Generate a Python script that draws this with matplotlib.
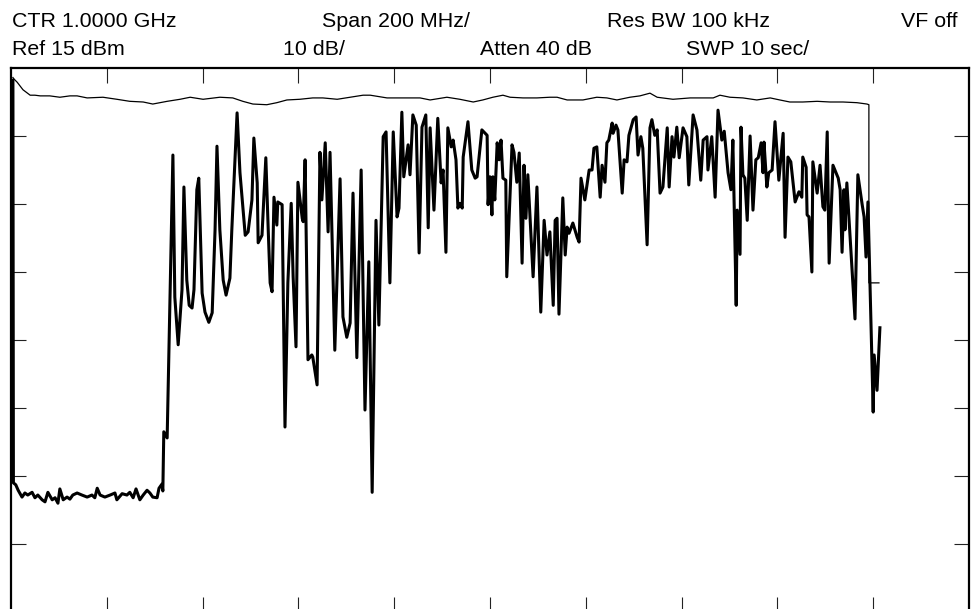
import matplotlib
matplotlib.use('Agg')
import matplotlib.pyplot as plt

plt.rcParams['font.family'] = ['Liberation Sans', 'DejaVu Sans']

# analyzer settings (CTR 1 GHz, 200 MHz/div, ref 15 dBm, 10 dB/div)
ref_level = 15
db_per_div = 10
n_vdiv = 8
span_mhz = 2000

header_row1 = ['CTR 1.0000 GHz', 'Span 200 MHz/', 'Res BW 100 kHz', 'VF off']
header_row2 = ['Ref 15 dBm', '10 dB/', 'Atten 40 dB', 'SWP 10 sec/']

trace_mhz = [4, 5, 10, 15, 23, 29, 35, 44, 50, 56, 65, 71, 77, 86, 92, 98, 102, 109, 117, 123,
             129, 138, 148, 159, 169, 175, 180, 186, 196, 207, 217, 221, 232, 242, 248, 255, 261, 269, 276, 284,
             290, 296, 305, 309, 315, 317, 319, 326, 338, 342, 349, 357, 361, 367, 372, 378, 382, 388, 392, 399,
             405, 413, 420, 426, 430, 436, 443, 449, 457, 461, 472, 478, 489, 495, 503, 507, 514, 516, 524, 532,
             537, 541, 545, 549, 555, 557, 566, 572, 578, 585, 589, 595, 599, 608, 610, 614, 620, 628, 630, 639,
             645, 649, 656, 662, 666, 676, 687, 693, 701, 708, 714, 722, 731, 739, 747, 754, 762, 768, 777, 783,
             791, 798, 806, 810, 816, 820, 829, 833, 839, 846, 852, 858, 866, 871, 875, 883, 891, 898, 902, 908,
             912, 919, 923, 929, 933, 937, 942, 944, 954, 962, 969, 973, 983, 994, 996, 1000, 1004, 1006, 1010, 1015,
             1019, 1023, 1027, 1033, 1035, 1046, 1050, 1056, 1061, 1067, 1071, 1075, 1079, 1090, 1098, 1106, 1113, 1119, 1125, 1132,
             1136, 1140, 1144, 1152, 1157, 1161, 1165, 1173, 1182, 1186, 1190, 1198, 1207, 1213, 1217, 1223, 1230, 1234, 1240, 1244,
             1248, 1255, 1257, 1263, 1267, 1276, 1280, 1286, 1290, 1299, 1305, 1309, 1315, 1319, 1328, 1334, 1338, 1344, 1349, 1355,
             1361, 1370, 1374, 1380, 1384, 1390, 1395, 1403, 1411, 1415, 1424, 1432, 1440, 1445, 1453, 1455, 1463, 1470, 1476, 1484,
             1489, 1497, 1503, 1507, 1514, 1516, 1522, 1524, 1528, 1532, 1537, 1543, 1549, 1555, 1560, 1566, 1570, 1572, 1578, 1582,
             1589, 1595, 1603, 1612, 1616, 1622, 1628, 1637, 1645, 1651, 1653, 1660, 1662, 1666, 1672, 1674, 1683, 1689, 1695, 1699,
             1704, 1708, 1716, 1727, 1731, 1735, 1739, 1741, 1745, 1756, 1762, 1768, 1777, 1781, 1785, 1789, 1800, 1802, 1808, 1814]
trace_dbm = [13.2, -46.0, -46.3, -47.1, -48.1, -47.5, -47.8, -47.4, -48.2, -47.8, -48.5, -48.8, -47.4, -48.5, -48.2, -49.0, -46.9, -48.5, -48.1, -48.4,
             -47.8, -47.5, -47.8, -48.1, -47.8, -48.2, -46.8, -47.8, -48.1, -47.8, -47.5, -48.5, -47.6, -47.8, -47.4, -48.2, -46.9, -48.5, -47.8, -47.1,
             -47.5, -48.1, -48.2, -46.8, -46.2, -47.2, -38.5, -39.4, 2.2, -18.7, -25.7, -17.6, -2.5, -16.2, -19.9, -20.3, -17.6, -2.9, -1.2, -18.1,
             -20.9, -22.4, -21.0, -8.8, 3.5, -8.8, -16.2, -18.4, -15.9, -8.8, 8.4, -0.4, -9.6, -9.1, -4.4, 4.7, -1.9, -10.7, -9.6, 1.8,
             -8.8, -16.6, -17.9, -4.0, -8.1, -4.7, -5.1, -37.8, -16.6, -4.9, -15.7, -26.0, -1.8, -7.1, -7.6, 1.5, -27.9, -27.2, -27.5, -31.6,
             2.6, -4.4, 4.0, -9.1, 2.6, -26.5, -1.3, -21.6, -24.6, -22.5, -3.4, -27.6, 0.0, -35.3, -13.5, -47.4, -7.4, -22.8, 4.9, 5.6,
             -16.6, 5.6, -6.9, -5.6, 8.5, -1.0, 3.7, -0.7, 8.1, 6.6, -12.2, 6.3, 8.1, -8.5, 6.2, -5.9, 7.6, -1.9, 0.0, -12.1,
             6.2, 3.4, 4.4, 1.5, -5.6, -4.9, -5.6, 1.9, 7.1, 0.0, -1.2, -1.0, 5.9, 5.1, -5.1, -1.0, -6.6, -1.0, -4.4, 4.0,
             1.5, 4.4, -1.2, -1.5, -15.7, 3.7, 2.6, -1.8, 2.5, -13.7, 0.7, -7.1, -0.7, -15.7, -2.5, -20.9, -7.4, -12.5, -9.1, -19.9,
             -7.4, -7.1, -21.2, -4.1, -12.5, -8.4, -9.3, -7.8, -9.9, -10.6, -1.2, -4.4, 0.0, 0.0, 3.2, 3.4, -4.0, 0.7, -1.8, 4.0,
             4.4, 6.9, 5.4, 6.6, 5.9, -3.4, 1.5, 1.2, 5.1, 7.4, 7.8, 2.2, 4.9, 3.2, -11.0, 6.2, 7.4, 5.1, 5.9, -3.4,
             -2.5, 6.2, -2.5, 4.9, 1.9, 6.3, 1.8, 6.2, 4.9, -2.2, 8.1, 5.9, -1.5, 4.4, 4.9, 0.0, 4.9, -4.0, 8.8, 4.4,
             5.7, -0.4, -2.9, 4.4, -19.9, -5.9, -12.4, 6.3, -0.7, -1.2, -7.4, 5.0, -5.9, 1.5, 1.8, 4.0, -0.4, 4.1, -2.5, -0.4,
             0.0, 7.1, -1.5, 5.4, -9.9, 1.9, 1.2, -4.7, -3.2, -4.0, 1.9, 0.4, -6.6, -6.9, -15.0, 1.2, -3.4, 0.7, -5.4, -5.9,
             5.6, -13.7, 0.7, -1.2, -2.9, -12.1, -2.9, -8.8, -1.9, -14.7, -21.9, -0.7, -5.1, -6.9, -12.8, -4.7, -35.6, -27.2, -32.4, -23.2]

# thin trace (reference / max level)
ref_mhz = [4, 6, 13, 25, 40, 50, 61, 81, 102, 123, 138, 159, 192, 221, 248, 276, 296, 326, 353, 374,
           401, 436, 463, 484, 505, 534, 555, 576, 603, 630, 651, 681, 708, 735, 750, 785, 818, 854, 875, 910,
           937, 965, 985, 1006, 1027, 1042, 1069, 1098, 1125, 1140, 1161, 1194, 1223, 1244, 1265, 1292, 1313, 1334, 1349, 1382,
           1418, 1445, 1466, 1480, 1501, 1528, 1557, 1585, 1605, 1626, 1653, 1683, 1710, 1737, 1766, 1787, 1791, 1791, 1812]
ref_dbm = [13.6, 13.4, 12.9, 11.8, 11.0, 11.0, 10.9, 10.9, 10.7, 10.9, 10.9, 10.6, 10.7, 10.4, 10.1, 10.0, 9.7, 10.1, 10.4, 10.7,
           10.4, 10.7, 10.6, 10.1, 9.7, 9.6, 9.9, 10.3, 10.4, 10.6, 10.6, 10.4, 10.7, 11.0, 11.0, 10.6, 10.6, 10.6, 10.3, 10.7,
           10.4, 10.0, 10.3, 10.7, 11.0, 10.7, 10.6, 10.6, 10.7, 10.7, 10.3, 10.3, 10.7, 10.6, 10.3, 10.7, 10.9, 11.3, 10.7, 10.4,
           10.6, 10.6, 10.6, 11.0, 10.7, 10.6, 10.3, 10.6, 10.3, 10.0, 10.0, 10.1, 10.0, 10.0, 9.9, 9.7, 9.6, -16.6, -16.6]

fig = plt.figure(figsize=(9.72, 6.09), dpi=100)
# the screen is cut at the bottom edge, so the axes run a little past the figure
ax = fig.add_axes([11 / 972, -3 / 609, 958 / 972, 544 / 609])

ax.plot(ref_mhz, ref_dbm, color='black', lw=0.9, solid_joinstyle='round')
ax.plot(trace_mhz, trace_dbm, color='black', lw=2.2, solid_joinstyle='round')

ax.set_xlim(0, span_mhz)
ax.set_ylim(ref_level - n_vdiv * db_per_div, ref_level)
ax.set_xticks(range(200, span_mhz, 200))
ax.set_yticks(range(ref_level - 10, ref_level - n_vdiv * db_per_div, -db_per_div))
ax.tick_params(direction='in', length=11, width=0.8, color='#222222',
               top=True, bottom=True, left=True, right=True,
               labelleft=False, labelbottom=False)
for side in ax.spines.values():
    side.set_linewidth(1.6)
    side.set_color('black')

# header lines above the screen
row1_x = [12, 322, 607, 901]
row2_x = [12, 283, 480, 686]
for label, x in zip(header_row1, row1_x):
    fig.text(x / 972, 1 - 27 / 609, label, fontsize=15.4, ha='left', va='baseline')
for label, x in zip(header_row2, row2_x):
    fig.text(x / 972, 1 - 55 / 609, label, fontsize=15.4, ha='left', va='baseline')

fig.savefig('out.png', dpi=100)
